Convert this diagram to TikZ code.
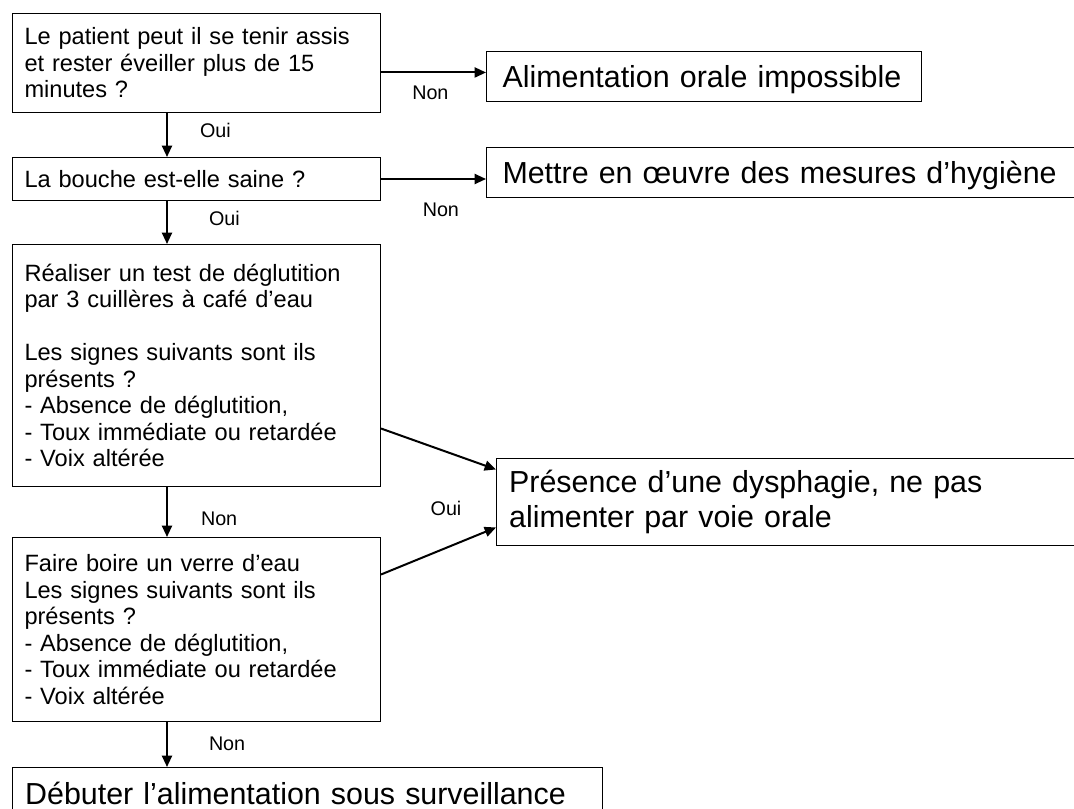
\documentclass[tikz,border=0pt]{standalone}
\usepackage{fontspec}
\setmainfont{Liberation Sans}
\usetikzlibrary{arrows.meta}

\begin{document}
\begin{tikzpicture}[x=0.75pt, y=-0.75pt,
  question/.style={draw, line width=0.75pt, anchor=north west, align=left,
    inner xsep=9pt, inner ysep=0pt, text width=258pt,
    font=\fontsize{17.7}{19.9}\selectfont},
  answer/.style={draw, line width=0.75pt, anchor=north west, align=left,
    inner xsep=12pt, inner ysep=0pt, font=\fontsize{22.8}{26.2}\selectfont},
  lbl/.style={inner sep=0pt, font=\fontsize{14.8}{17}\selectfont},
  arr/.style={-{Triangle[length=8.5pt,width=7.5pt]}, line width=1.5pt}]

  \clip (0,0) rectangle (1074,809);
  \coordinate (axis) at (167,0);

  \node [question, minimum height=74.25pt] (assis) at (12,13)
    {Le patient peut il se tenir assis\\ et rester éveiller plus de 15\\ minutes ?};
  \node [question, minimum height=32.25pt] (bouche) at (12,157)
    {La bouche est-elle saine ?};
  \node [question, minimum height=181.5pt] (test) at (12,244)
    {Réaliser un test de déglutition\\ par 3 cuillères à café d’eau\\[19.9pt]
     Les signes suivants sont ils\\ présents ?\\ - Absence de déglutition,\\
     - Toux immédiate ou retardée\\ - Voix altérée};
  \node [question, minimum height=138pt] (verre) at (12,537)
    {Faire boire un verre d’eau\\ Les signes suivants sont ils\\ présents ?\\
     - Absence de déglutition,\\ - Toux immédiate ou retardée\\ - Voix altérée};

  \node [answer, text width=302pt, text depth=0pt, minimum height=37.5pt] (alim) at (486,51)
    {Alimentation orale impossible};
  \node [answer, text width=440pt, text depth=0pt, minimum height=37.5pt] (hygiene) at (486,147)
    {Mettre en œuvre des mesures d’hygiène};
  \node [answer, inner xsep=9.5pt, text width=440pt, minimum height=65.25pt] (dysph) at (496,458)
    {Présence d’une dysphagie, ne pas\\ alimenter par voie orale};
  \node [answer, inner xsep=9.5pt, text width=423.5pt, minimum height=39pt] (debut) at (12,767)
    {Débuter l’alimentation sous surveillance};

  \draw [arr] (assis.south -| axis) -- node [lbl, pos=0.4, right=24pt] {Oui} (bouche.north -| axis);
  \draw [arr] (bouche.south -| axis) -- node [lbl, pos=0.41, right=30.75pt] {Oui} (test.north -| axis);
  \draw [arr] (test.south -| axis) -- node [lbl, pos=0.63, right=24.75pt] {Non} (verre.north -| axis);
  \draw [arr] (verre.south -| axis) -- node [lbl, pos=0.48, right=30.75pt] {Non} (debut.north -| axis);

  \draw [arr] ([yshift=-7.1pt]assis.east) -- node [lbl, pos=0.47, below=9pt] {Non}
    ([yshift=-7.1pt]assis.east -| alim.west);
  \draw [arr] (bouche.east) -- node [lbl, pos=0.57, below=17pt] {Non}
    (bouche.east -| hygiene.west);

  \draw [arr] ([yshift=-47.25pt]test.east) -- ([yshift=24.4pt]dysph.west);
  \draw [arr] ([yshift=41.25pt]verre.east) -- ([yshift=-19.1pt]dysph.west);
  \node [lbl] (oui) at (446,508) {Oui};
\end{tikzpicture}
\end{document}
